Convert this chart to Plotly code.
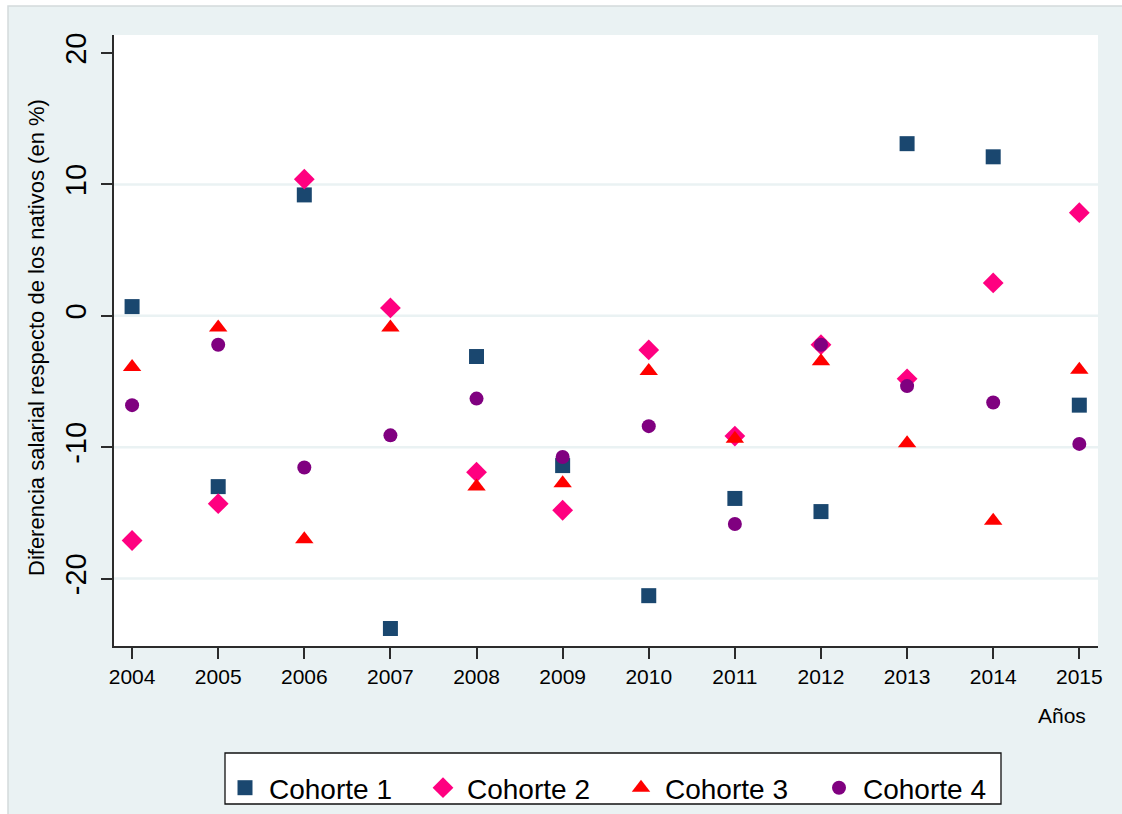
import plotly.graph_objects as go

# Wage gap of immigrant cohorts relative to natives, by year
years = [2004, 2005, 2006, 2007, 2008, 2009, 2010, 2011, 2012, 2013, 2014, 2015]
cohorte_1 = [0.7, -13.0, 9.2, -23.8, -3.1, -11.4, -21.3, -13.9, -14.9, 13.1, 12.1, -6.8]
cohorte_2 = [-17.1, -14.3, 10.4, 0.6, -11.9, -14.8, -2.6, -9.15, -2.2, -4.8, 2.5, 7.85]
cohorte_3 = [-3.9, -0.9, -17.0, -0.9, -13.0, -12.75, -4.2, -9.35, -3.45, -9.7, -15.6, -4.1]
cohorte_4 = [-6.8, -2.2, -11.55, -9.1, -6.3, -10.75, -8.4, -15.85, -2.2, -5.35, -6.6, -9.75]

series_names = ["Cohorte 1", "Cohorte 2", "Cohorte 3", "Cohorte 4"]
y_ticks = [-20, -10, 0, 10, 20]
grid_values = [-20, -10, 0, 10]

BG = "#EAF2F3"
AXIS = "#2b2b2b"
FONT = "Arial, Liberation Sans, sans-serif"

# figure geometry (pixels)
W, H = 1122, 814
ML, MR, MT, MB = 114, 24, 35, 168
PW, PH = W - ML - MR, H - MT - MB


def px(xp):
    return (xp - ML) / PW


def py(yp):
    return (H - MB - yp) / PH


styles = [
    dict(symbol="square", size=15, color="#1A476F"),
    dict(symbol="diamond", size=16, color="#FF0080"),
    dict(symbol="triangle-up", size=16, color="#FF0000"),
    dict(symbol="circle", size=14, color="#800080"),
]

fig = go.Figure()
for name, vals, st in zip(series_names, [cohorte_1, cohorte_2, cohorte_3, cohorte_4], styles):
    fig.add_trace(go.Scatter(
        x=years, y=vals, mode="markers", name=name,
        marker=dict(symbol=st["symbol"], size=st["size"], color=st["color"],
                    line=dict(width=0)),
    ))

shapes = [
    # outer graph region
    dict(type="rect", xref="paper", yref="paper", layer="below",
         x0=px(8), x1=px(1124), y0=py(6), y1=py(816),
         fillcolor=BG, line=dict(color="#D3DADC", width=1.5)),
    # plot region
    dict(type="rect", xref="paper", yref="paper", layer="below",
         x0=0, x1=1, y0=0, y1=1,
         fillcolor="white", line=dict(width=0)),
    # legend frame
    dict(type="rect", xref="paper", yref="paper", layer="above",
         x0=px(225), x1=px(1001), y0=py(753), y1=py(804),
         fillcolor="white", line=dict(color="#111111", width=1.3)),
]
for g in grid_values:
    shapes.append(dict(type="line", xref="paper", yref="y", layer="below",
                       x0=0, x1=1, y0=g, y1=g,
                       line=dict(color=BG, width=2.5)))

fig.update_layout(
    width=W, height=H,
    margin=dict(l=ML, r=MR, t=MT, b=MB, autoexpand=False),
    paper_bgcolor="white",
    plot_bgcolor="rgba(0,0,0,0)",
    font=dict(family=FONT, color="black"),
    shapes=shapes,
    showlegend=True,
    legend=dict(
        orientation="h",
        x=px(221), xanchor="left",
        y=py(788), yanchor="middle",
        bgcolor="rgba(0,0,0,0)",
        borderwidth=0,
        font=dict(family=FONT, size=28, color="black"),
        itemwidth=38,
        entrywidth=145,
        traceorder="normal",
    ),
    xaxis=dict(
        range=[2003.79, 2015.217],
        tickmode="array", tickvals=years, ticktext=[str(y) for y in years],
        tickfont=dict(size=21, family=FONT),
        ticks="outside", ticklen=11, tickwidth=1.5, tickcolor=AXIS,
        showline=True, linecolor=AXIS, linewidth=2,
        showgrid=False, zeroline=False,
        ticklabelstandoff=0,
    ),
    yaxis=dict(
        range=[-25.13, 21.37],
        tickmode="array", tickvals=y_ticks, ticktext=[str(v) for v in y_ticks],
        tickangle=-90,
        tickfont=dict(size=29, family=FONT),
        ticks="outside", ticklen=11, tickwidth=1.5, tickcolor=AXIS,
        showline=True, linecolor=AXIS, linewidth=2,
        showgrid=False, zeroline=False,
        ticklabelstandoff=3,
    ),
    annotations=[
        dict(text="Diferencia salarial respecto de los nativos (en %)",
             xref="paper", yref="paper", x=px(36), y=py(338),
             xanchor="center", yanchor="middle", textangle=-90,
             showarrow=False, font=dict(size=22, family=FONT)),
        dict(text="Años", xref="paper", yref="paper", x=px(1088), y=py(715),
             xanchor="right", yanchor="middle", showarrow=False,
             font=dict(size=21, family=FONT)),
    ],
)

fig.write_html("out.html")
